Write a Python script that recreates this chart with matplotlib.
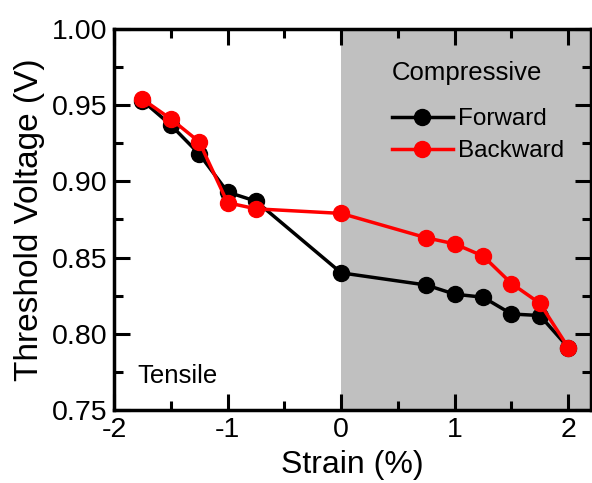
import matplotlib.pyplot as plt
from matplotlib.ticker import MultipleLocator

plt.rcParams['font.family'] = ['Liberation Sans', 'DejaVu Sans']
plt.rcParams['axes.unicode_minus'] = False

# threshold voltage vs strain, forward and backward sweeps
strain = [-1.75, -1.5, -1.25, -1.0, -0.75, 0.0, 0.75, 1.0, 1.25, 1.5, 1.75, 2.0]
vth_forward = [0.953, 0.937, 0.918, 0.893, 0.887, 0.840, 0.832, 0.826, 0.824, 0.813, 0.812, 0.791]
vth_backward = [0.954, 0.941, 0.926, 0.886, 0.882, 0.879, 0.863, 0.859, 0.851, 0.833, 0.820, 0.791]

fig = plt.figure(figsize=(5.92, 4.83), dpi=100)
ax = fig.add_axes([0.1926, 0.1511, 0.8057, 0.7889])

# compressive region shaded
ax.axvspan(0, 2.2, color='#c0c0c0', lw=0, zorder=0)

ax.plot(strain, vth_forward, '-o', color='black', lw=2.5, ms=11.5, label='Forward', zorder=3)
ax.plot(strain, vth_backward, '-o', color='#ff0000', lw=2.5, ms=11.5, label='Backward', zorder=4)

ax.set_xlim(-2, 2.2)
ax.set_ylim(0.75, 1.00)
ax.xaxis.set_major_locator(MultipleLocator(1))
ax.xaxis.set_minor_locator(MultipleLocator(0.5))
ax.yaxis.set_minor_locator(MultipleLocator(0.025))
ax.set_yticks([0.75, 0.80, 0.85, 0.90, 0.95, 1.00])
ax.set_yticklabels(['0.75', '0.80', '0.85', '0.90', '0.95', '1.00'])

ax.tick_params(which='both', direction='in', top=True, right=True, width=2.2, labelsize=20.5)
ax.tick_params(which='major', length=11.5, pad=5)
ax.tick_params(which='minor', length=6.5)
for s in ax.spines.values():
    s.set_linewidth(2.5)

ax.set_xlabel('Strain (%)', fontsize=23, labelpad=5)
ax.set_ylabel('Threshold Voltage (V)', fontsize=24, labelpad=5)

ax.text(0.449, 0.9665, 'Compressive', fontsize=18.5, ha='left', va='baseline')
ax.text(-1.797, 0.7677, 'Tensile', fontsize=18.5, ha='left', va='baseline')

ax.legend(loc='upper left', bbox_to_anchor=(0.583, 0.792), frameon=False, borderpad=0,
          fontsize=17.5, handlelength=2.5, handletextpad=0.2, labelspacing=0.42,
          borderaxespad=0)

fig.savefig('out.png', dpi=100)
